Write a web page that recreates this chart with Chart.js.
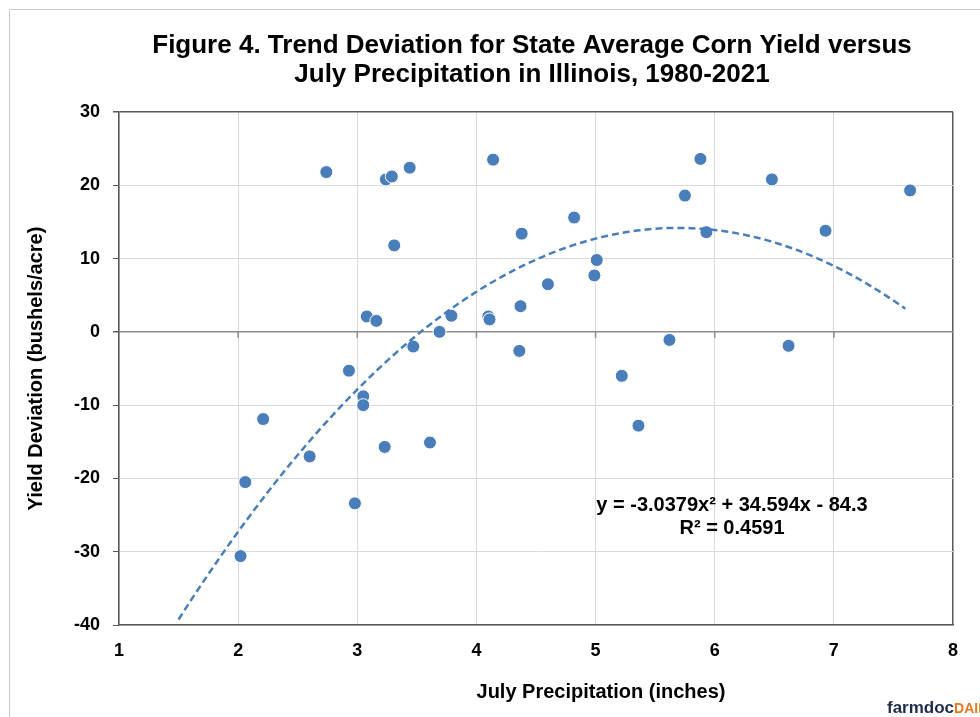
<!DOCTYPE html>
<html>
<head>
<meta charset="utf-8">
<script src="https://cdn.jsdelivr.net/npm/chart.js@4.4.0/dist/chart.umd.min.js"></script>
<style>
  html, body { margin: 0; padding: 0; background: #fff; }
</style>
</head>
<body>
<canvas id="chart" width="980" height="717"></canvas>
<script>
// July precipitation (inches) and trend yield deviation (bu/acre)
const precipitation = [
  2.74, 3.24, 3.29, 3.44, 4.14, 3.31, 3.08, 3.16, 3.79, 3.69,
  4.10, 4.11, 3.47, 5.88, 6.48, 7.64, 5.75, 4.82, 4.38, 5.93,
  6.93, 5.01, 4.99, 4.60, 4.37, 4.36, 5.62, 6.62, 5.22, 5.36,
  2.93, 3.05, 3.05, 2.21, 2.60, 3.23, 3.61, 2.06, 2.98, 2.02
];
const yieldDeviation = [
  21.8, 20.8, 21.2, 22.4, 23.5, 11.8, 2.1, 1.5, 2.2, 0.0,
  2.1, 1.7, -2.0, 23.6, 20.8, 19.3, 18.6, 15.6, 13.4, 13.6,
  13.8, 9.8, 7.7, 6.5, 3.5, -2.6, -1.1, -1.9, -6.0, -12.8,
  -5.3, -8.8, -10.0, -11.9, -17.0, -15.7, -15.1, -20.5, -23.4, -30.6
];

// fitted trend printed on the chart: y = a x^2 + b x + c
const trendCoef = [-3.0379, 34.594, -84.3];
const trendFrom = 1.5;
const trendTo = 7.62;

const xMin = 1, xMax = 8, xStep = 1;
const yMin = -40, yMax = 30, yStep = 10;

const titleLines = [
  "Figure 4. Trend Deviation for State Average Corn Yield versus",
  "July Precipitation in Illinois, 1980-2021"
];
const xTitle = "July Precipitation (inches)";
const yTitle = "Yield Deviation (bushels/acre)";
const equationLines = ["y = -3.0379x\u00B2 + 34.594x - 84.3", "R\u00B2 = 0.4591"];

const FONT = "'Liberation Sans', Arial, sans-serif";
const BLUE = "#4a7ebb";
const DARK = "#595959";
const GRID = "#d9d9d9";

const points = precipitation.map((x, i) => ({ x, y: yieldDeviation[i] }));

const trendPoints = [];
for (let x = trendFrom; x <= trendTo + 1e-9; x += 0.05) {
  const xx = Math.min(x, trendTo);
  trendPoints.push({ x: xx, y: trendCoef[0] * xx * xx + trendCoef[1] * xx + trendCoef[2] });
}

const decorations = {
  id: "decorations",
  afterDraw(chart) {
    const { ctx, scales: { x, y } } = chart;
    ctx.save();

    // outer frame
    ctx.strokeStyle = "#c8c8c8";
    ctx.lineWidth = 1;
    ctx.beginPath();
    ctx.moveTo(9.5, 717);
    ctx.lineTo(9.5, 9.5);
    ctx.lineTo(980, 9.5);
    ctx.stroke();

    // tick marks hanging off the zero line
    const y0 = y.getPixelForValue(0);
    ctx.strokeStyle = "#8c8c8c";
    ctx.lineWidth = 1.5;
    x.ticks.forEach((t) => {
      if (t.value === xMin || t.value === xMax) return;
      const px = x.getPixelForValue(t.value);
      ctx.beginPath();
      ctx.moveTo(px, y0);
      ctx.lineTo(px, y0 + 6);
      ctx.stroke();
    });

    ctx.fillStyle = "#000";
    ctx.textAlign = "center";
    ctx.textBaseline = "middle";

    ctx.font = "bold 26px " + FONT;
    ctx.fillText(titleLines[0], 532, 46);
    ctx.fillText(titleLines[1], 532, 75);

    ctx.font = "bold 20px " + FONT;
    ctx.fillText(xTitle, 601, 692);

    ctx.save();
    ctx.translate(36, (chart.chartArea.top + chart.chartArea.bottom) / 2);
    ctx.rotate(-Math.PI / 2);
    ctx.fillText(yTitle, 0, 0);
    ctx.restore();

    ctx.fillText(equationLines[0], 732, 505);
    ctx.fillText(equationLines[1], 732, 528);

    // logo
    ctx.textAlign = "left";
    ctx.textBaseline = "alphabetic";
    ctx.font = "bold 17px " + FONT;
    ctx.fillStyle = "#1f2b4d";
    ctx.fillText("farmdoc", 887, 713);
    const w = ctx.measureText("farmdoc").width;
    ctx.font = "bold 14px " + FONT;
    ctx.fillStyle = "#e87722";
    ctx.fillText("DAILY", 887 + w, 713);

    ctx.restore();
  }
};

new Chart(document.getElementById("chart"), {
  type: "scatter",
  data: {
    datasets: [
      {
        label: "Trend",
        data: trendPoints,
        showLine: true,
        borderColor: BLUE,
        borderWidth: 2.5,
        borderDash: [7, 4],
        pointRadius: 0,
        tension: 0,
        order: 0
      },
      {
        label: "Yield deviation",
        data: points,
        backgroundColor: BLUE,
        borderColor: "#ffffff",
        borderWidth: 1,
        pointRadius: 6.5,
        order: 1
      }
    ]
  },
  options: {
    responsive: false,
    animation: false,
    devicePixelRatio: 1,
    layout: { padding: { top: 112, right: 27, left: 0, bottom: 0 } },
    plugins: {
      legend: { display: false },
      title: { display: false },
      tooltip: { enabled: false }
    },
    scales: {
      x: {
        type: "linear",
        min: xMin,
        max: xMax,
        afterFit: (s) => { s.height = 92; },
        ticks: {
          stepSize: xStep,
          padding: 15,
          color: "#000",
          font: { family: FONT, size: 18, weight: "bold" }
        },
        grid: {
          drawTicks: false,
          color: (c) => (c.tick && (c.tick.value === xMax) ? DARK : GRID),
          lineWidth: (c) => (c.tick && c.tick.value === xMax ? 1.5 : 1)
        },
        border: { display: true, color: DARK, width: 1.5 }
      },
      y: {
        type: "linear",
        min: yMin,
        max: yMax,
        afterFit: (s) => { s.width = 119; },
        ticks: {
          stepSize: yStep,
          padding: 13,
          color: "#000",
          font: { family: FONT, size: 18, weight: "bold" }
        },
        grid: {
          tickLength: 6,
          tickColor: DARK,
          color: (c) => {
            if (!c.tick) return GRID;
            if (c.tick.value === yMax) return DARK;
            if (c.tick.value === 0) return "#8c8c8c";
            return GRID;
          },
          lineWidth: (c) => (c.tick && (c.tick.value === yMax || c.tick.value === 0) ? 1.5 : 1)
        },
        border: { display: true, color: DARK, width: 1.5 }
      }
    }
  },
  plugins: [decorations]
});
</script>
</body>
</html>
